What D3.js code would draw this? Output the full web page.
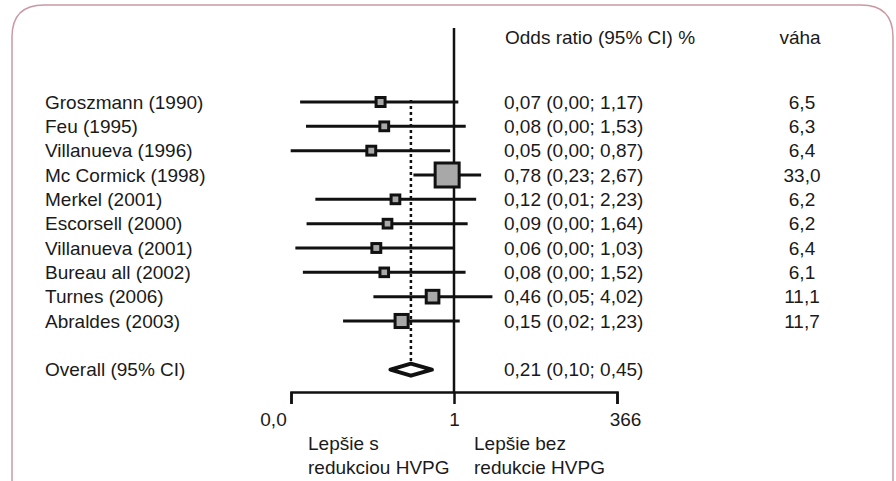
<!DOCTYPE html>
<html>
<head>
<meta charset="utf-8">
<script src="https://cdn.jsdelivr.net/npm/d3@7"></script>
<style>
  body { margin: 0; background: #fff; }
  text { font-family: "Liberation Sans", Arial, sans-serif; fill: #1a1a1a; }
</style>
</head>
<body>
<div id="chart"></div>
<script>
// data
var studies = ["Groszmann (1990)", "Feu (1995)", "Villanueva (1996)", "Mc Cormick (1998)",
  "Merkel (2001)", "Escorsell (2000)", "Villanueva (2001)", "Bureau all (2002)",
  "Turnes (2006)", "Abraldes (2003)"];
var oddsRatio = [0.07, 0.08, 0.05, 0.78, 0.12, 0.09, 0.06, 0.08, 0.46, 0.15];
// lower limits as drawn (printed as 0,00 / 0,01 ...)
var ciLower = [0.0038, 0.0047, 0.0027, 0.23, 0.0066, 0.0048, 0.0032, 0.0042, 0.054, 0.018];
var ciUpper = [1.17, 1.53, 0.87, 2.67, 2.23, 1.64, 1.03, 1.52, 4.02, 1.23];
var weights = [6.5, 6.3, 6.4, 33.0, 6.2, 6.2, 6.4, 6.1, 11.1, 11.7];

var overallLabel = "Overall (95% CI)";
var overallOR = 0.21, overallLower = 0.10, overallUpper = 0.45;

var tickValues = [1 / 366, 1, 366];
var tickLabels = ["0,0", "1", "366"];

var width = 896, height = 481;
var fs = "19px";

var svg = d3.select("#chart")
  .append("svg")
    .attr("width", width)
    .attr("height", height);

// frame with rounded top corners, open at the bottom
svg.append("path")
  .attr("d", "M12,481 V37 Q12,5 44,5 H861 Q893,5 893,37 V481")
  .attr("fill", "none")
  .attr("stroke", "#c99aa4")
  .attr("stroke-width", 1.5);

var loc = d3.formatLocale({decimal: ",", thousands: " ", grouping: [3], currency: ["", ""]});
var f2 = loc.format(".2f"), f1 = loc.format(".1f");

// scales
var x = d3.scaleLog().domain([1 / 366, 366]).range([291, 617]);
var y = d3.scaleLinear().domain([0, 9]).range([102, 321]);
var boxSize = d3.scaleSqrt().domain([0, 33]).range([0, 27]);
var overallRow = 11;
var axisY = 392;

// headers
svg.append("text").attr("x", 505).attr("y", 37).attr("dy", ".35em")
  .style("font-size", fs).text("Odds ratio (95% CI) %");
svg.append("text").attr("x", 800).attr("y", 37).attr("dy", ".35em")
  .attr("text-anchor", "middle").style("font-size", fs).text("váha");

// line of no effect
svg.append("line")
  .attr("x1", x(1)).attr("x2", x(1))
  .attr("y1", 28).attr("y2", axisY)
  .attr("stroke", "#111").attr("stroke-width", 2.5);

// dotted line at the pooled estimate
svg.append("line")
  .attr("x1", x(overallOR)).attr("x2", x(overallOR))
  .attr("y1", y(0) - 2).attr("y2", y(overallRow) - 6)
  .attr("stroke", "#111").attr("stroke-width", 2.5)
  .attr("stroke-dasharray", "3,3");

var rows = studies.map(function(s, i) {
  return {name: s, or: oddsRatio[i], lo: ciLower[i], hi: ciUpper[i], w: weights[i], i: i};
});

var g = svg.append("g");

g.selectAll(".ci")
  .data(rows)
  .enter().append("line")
    .attr("class", "ci")
    .attr("x1", function(d) { return x(d.lo); })
    .attr("x2", function(d) { return x(d.hi); })
    .attr("y1", function(d) { return y(d.i); })
    .attr("y2", function(d) { return y(d.i); })
    .attr("stroke", "#111")
    .attr("stroke-width", 3);

g.selectAll(".box")
  .data(rows)
  .enter().append("rect")
    .attr("class", "box")
    .attr("x", function(d) { return x(d.or) - boxSize(d.w) / 2; })
    .attr("y", function(d) { return y(d.i) - boxSize(d.w) / 2; })
    .attr("width", function(d) { return boxSize(d.w); })
    .attr("height", function(d) { return boxSize(d.w); })
    .attr("fill", "#111");

g.selectAll(".boxIn")
  .data(rows)
  .enter().append("rect")
    .attr("class", "boxIn")
    .attr("x", function(d) { return x(d.or) - boxSize(d.w) / 2 + 3; })
    .attr("y", function(d) { return y(d.i) - boxSize(d.w) / 2 + 3; })
    .attr("width", function(d) { return boxSize(d.w) - 6; })
    .attr("height", function(d) { return boxSize(d.w) - 6; })
    .attr("fill", "#a8a8a8");

// text columns
g.selectAll(".name")
  .data(rows)
  .enter().append("text")
    .attr("x", 45)
    .attr("y", function(d) { return y(d.i); })
    .attr("dy", ".35em")
    .style("font-size", fs)
    .text(function(d) { return d.name; });

g.selectAll(".ciText")
  .data(rows)
  .enter().append("text")
    .attr("x", 504)
    .attr("y", function(d) { return y(d.i); })
    .attr("dy", ".35em")
    .style("font-size", fs)
    .text(function(d) { return f2(d.or) + " (" + f2(d.lo) + "; " + f2(d.hi) + ")"; });

g.selectAll(".wText")
  .data(rows)
  .enter().append("text")
    .attr("x", 802)
    .attr("y", function(d) { return y(d.i); })
    .attr("dy", ".35em")
    .attr("text-anchor", "middle")
    .style("font-size", fs)
    .text(function(d) { return f1(d.w); });

// overall row
var oy = y(overallRow);
svg.append("text").attr("x", 45).attr("y", oy).attr("dy", ".35em")
  .style("font-size", fs).text(overallLabel);
svg.append("text").attr("x", 504).attr("y", oy).attr("dy", ".35em")
  .style("font-size", fs)
  .text(f2(overallOR) + " (" + f2(overallLower) + "; " + f2(overallUpper) + ")");
svg.append("path")
  .attr("d", "M" + x(overallLower) + "," + oy +
             "L" + x(overallOR) + "," + (oy - 6) +
             "L" + x(overallUpper) + "," + oy +
             "L" + x(overallOR) + "," + (oy + 6) + "Z")
  .attr("fill", "#fff")
  .attr("stroke", "#111")
  .attr("stroke-width", 4)
  .attr("stroke-linejoin", "round");

// x axis
var axis = svg.append("g")
  .attr("transform", "translate(0," + axisY + ")")
  .call(d3.axisBottom(x)
    .tickValues(tickValues)
    .tickSizeInner(12).tickSizeOuter(12)
    .tickPadding(9)
    .tickFormat(function(d, i) { return tickLabels[i]; }));
axis.select(".domain").attr("stroke", "#111").attr("stroke-width", 2.5);
axis.selectAll(".tick line").attr("stroke", "#111").attr("stroke-width", 2.5);
axis.selectAll(".tick text")
  .style("font-size", fs)
  .style("font-family", "'Liberation Sans', Arial, sans-serif")
  .attr("fill", "#1a1a1a")
  .attr("dx", function(d, i) { return i === 0 ? -18 : (i === 2 ? 8 : 0); });

// direction notes
var notes = [["Lepšie s", "redukciou HVPG"], ["Lepšie bez", "redukcie HVPG"]];
var noteX = [308, 474];
notes.forEach(function(n, k) {
  n.forEach(function(t, j) {
    svg.append("text")
      .attr("x", noteX[k]).attr("y", 443 + j * 24).attr("dy", ".35em")
      .style("font-size", fs).text(t);
  });
});
</script>
</body>
</html>
